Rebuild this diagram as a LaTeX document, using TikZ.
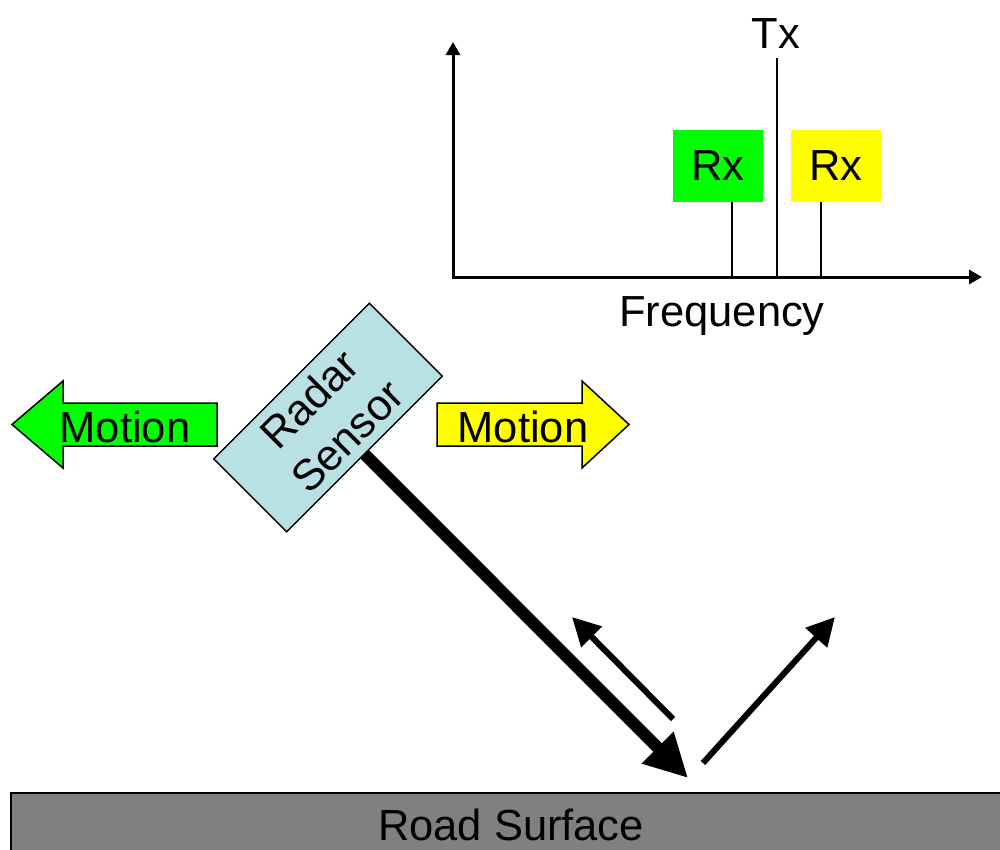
\documentclass[tikz,border=0pt]{standalone}
\usepackage{fontspec}
\setmainfont{Liberation Sans}
\usetikzlibrary{arrows.meta}
\definecolor{rxgreen}{RGB}{0,255,0}
\definecolor{rxyellow}{RGB}{255,255,0}
\definecolor{sensorblue}{RGB}{185,224,228}
\definecolor{roadgray}{RGB}{128,128,128}
\begin{document}
\begin{tikzpicture}[x=1pt,y=-1pt,
  lbl/.style={font=\fontsize{43.5}{52}\selectfont, inner sep=0pt, anchor=base},
  axis/.style={line width=3pt, -{Triangle[length=13pt,width=14pt]}},
  stem/.style={line width=2pt},
  rxbox/.style={minimum width=90pt, minimum height=72pt, inner sep=0pt, font=\fontsize{43.5}{52}\selectfont},
  motionarrow/.style={draw=black, line width=1.5pt, line join=miter},
  sensorbox/.style={draw=black, line width=1.5pt, fill=sensorblue, rotate=45, minimum width=220pt, minimum height=103pt, inner sep=0pt, align=center, font=\fontsize{43.5}{53}\selectfont},
  beam/.style={line width=12pt, -{Triangle[length=43pt,width=42pt]}},
  ray/.style={line width=6pt, -{Triangle[length=28pt,width=28pt]}},
  roadstyle/.style={draw=black, line width=2pt, fill=roadgray}
]
\useasboundingbox (0,0) rectangle (1000,849);

% spectrum axes
\coordinate (origin) at (453,277);
\coordinate (ytip) at (453,42);
\coordinate (xtip) at (982,277);
\draw[axis] ([yshift=1.5pt]origin) -- (ytip);
\draw[axis] ([xshift=-1.5pt]origin) -- (xtip);

% Tx line
\coordinate (txbase) at (777,277);
\coordinate (txtop) at (777,58);
\draw[stem] (txbase) -- (txtop);
\node[lbl] (tx) at (776,48) {Tx};

% Rx boxes
\node[rxbox, fill=rxgreen] (rxg) at (718,166) {Rx};
\node[rxbox, fill=rxyellow] (rxy) at (836,166) {Rx};
\draw[stem] ([xshift=14pt]rxg.south) -- ([xshift=14pt]rxg.south |- origin);
\draw[stem] ([xshift=-15pt]rxy.south) -- ([xshift=-15pt]rxy.south |- origin);

\node[lbl] (freq) at (722,326) {Frequency};

% Motion arrows
\draw[motionarrow, fill=rxgreen] (12,424.5) -- (63,381) -- (63,403) -- (217,403) -- (217,446) -- (63,446) -- (63,468) -- cycle;
\node[lbl] (motionL) at (125,442) {Motion};
\draw[motionarrow, fill=rxyellow] (629,424.5) -- (582,381) -- (582,403) -- (437,403) -- (437,446) -- (582,446) -- (582,468) -- cycle;
\node[lbl] (motionR) at (523,442) {Motion};

% beam from sensor to road
\coordinate (sensorpos) at (328,417.5);
\coordinate (hit) at (688,778);
\draw[beam] (sensorpos) -- (hit);
\node[sensorbox] (sensor) at (sensorpos) {Radar\\Sensor};

% returned and reflected rays
\coordinate (retstart) at (673,719);
\coordinate (rettip) at (572,617);
\draw[ray] (retstart) -- (rettip);
\coordinate (reflstart) at (703,763);
\coordinate (refltip) at (835,617);
\draw[ray] (reflstart) -- (refltip);

% road
\draw[roadstyle] (11,793) rectangle (1012,870);
\node[lbl] (road) at (511,840) {Road Surface};
\end{tikzpicture}
\end{document}
